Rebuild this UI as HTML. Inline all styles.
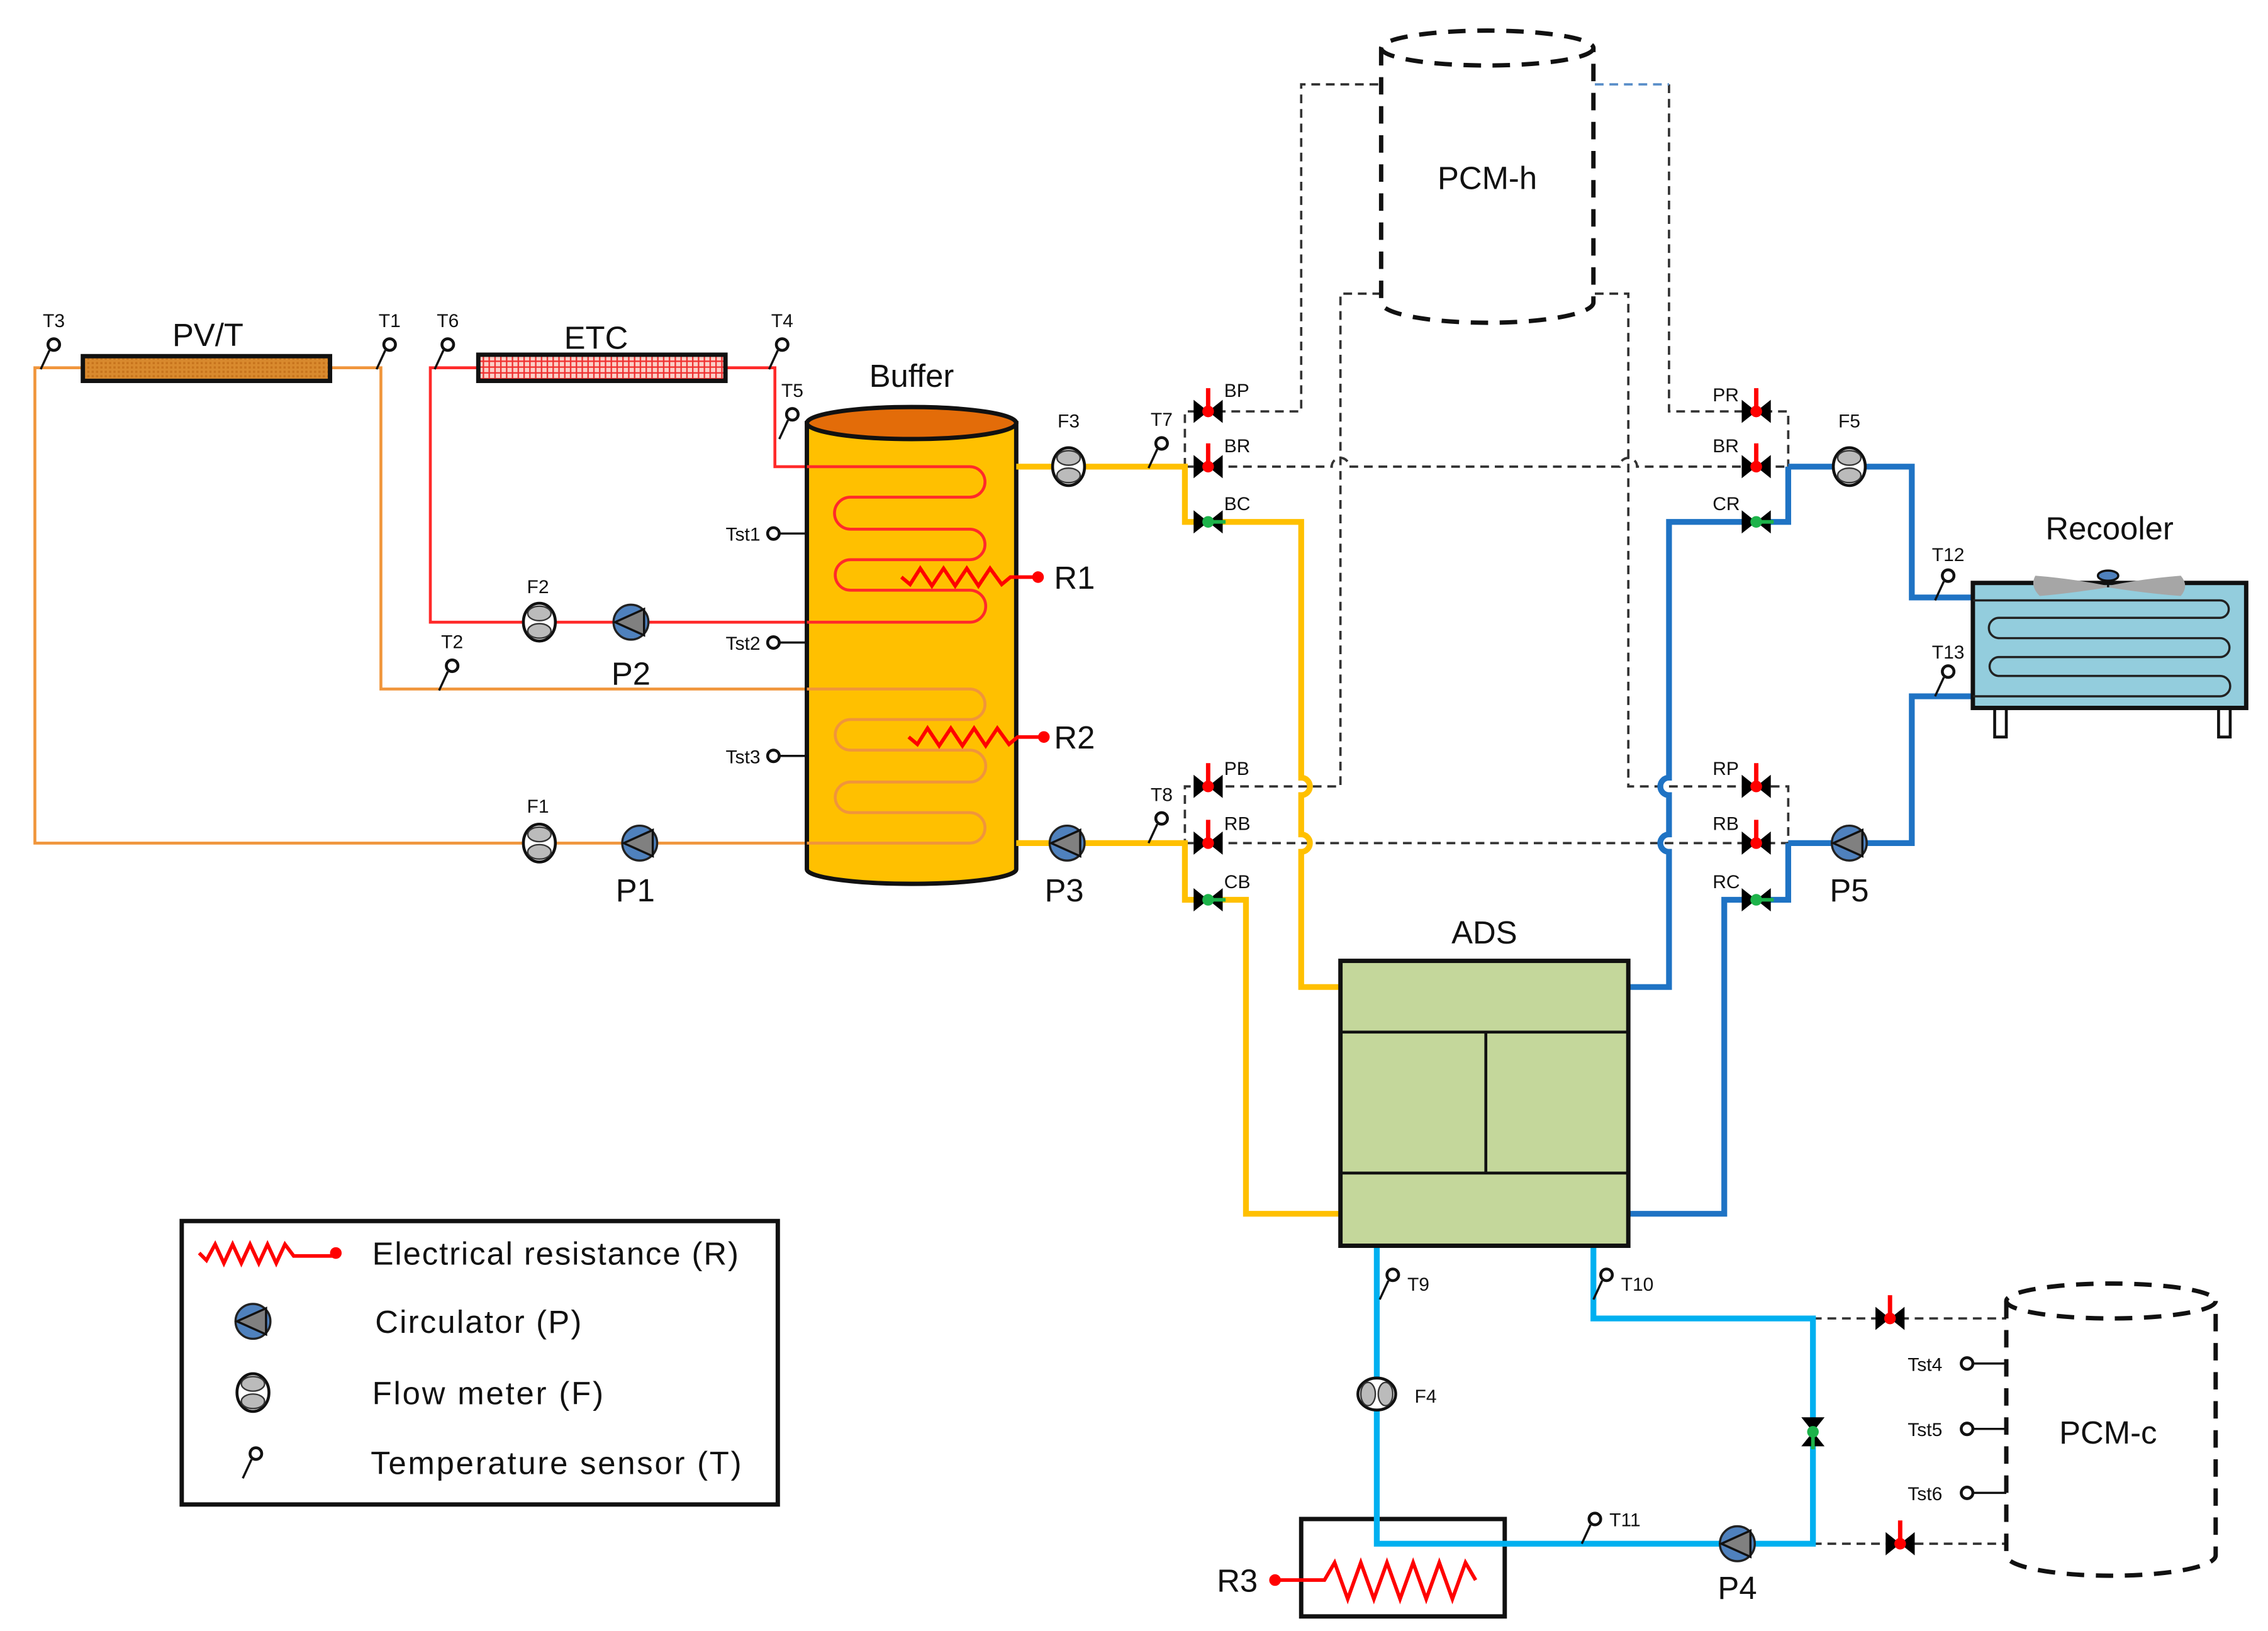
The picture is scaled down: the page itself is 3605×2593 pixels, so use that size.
<!DOCTYPE html>
<html><head><meta charset="utf-8">
<style>
html,body{margin:0;padding:0;background:#fff;}
svg{display:block;}
text{font-family:"Liberation Sans",sans-serif;fill:#111;}
.s{font-size:13px;}
.m{font-size:20px;}
.l{font-size:22px;}
</style></head>
<body>
<svg width="3605" height="2593" viewBox="0 0 1560 1122" xmlns="http://www.w3.org/2000/svg">
<defs>
<pattern id="hatch" width="3" height="3" patternUnits="userSpaceOnUse">
<rect width="3" height="3" fill="#d98a2e"/><rect width="1.5" height="1.5" fill="#c7741d"/>
</pattern>
<pattern id="grid" width="4" height="4" patternUnits="userSpaceOnUse">
<rect width="4" height="4" fill="#fbd0c8"/><path d="M0,0.5H4M0.5,0V4" stroke="#f03030" stroke-width="1"/>
</pattern>
<g id="pump"><circle r="12" fill="#4f81bd" stroke="#222" stroke-width="1.5"/><polygon points="-11,0 9,-9 9,9" fill="#808080" stroke="#111" stroke-width="1.5"/></g>
<g id="flow"><ellipse rx="11" ry="13" fill="#fff" stroke="#111" stroke-width="2"/><ellipse cy="-6" rx="8" ry="5" fill="#bbb" stroke="#333"/><ellipse cy="6" rx="8" ry="5" fill="#bbb" stroke="#333"/></g>
<g id="vb"><polygon points="-10,-8 0,0 -10,8" fill="#000"/><polygon points="10,-8 0,0 10,8" fill="#000"/></g>
<g id="vr"><use href="#vb"/><line x1="0" y1="-16" x2="0" y2="0" stroke="#f00" stroke-width="3"/><circle r="4" fill="#f00"/></g>
<g id="vg"><use href="#vb"/><line x1="0" y1="0" x2="12" y2="0" stroke="#1db34a" stroke-width="2.5"/><circle r="4" fill="#1db34a"/></g>
<g id="sen"><line x1="-3" y1="4" x2="-9" y2="17" stroke="#111" stroke-width="1.5"/><circle r="4" fill="#fff" stroke="#111" stroke-width="2"/></g>
</defs>

<!-- dashed PCM-h connections -->
<g fill="none" stroke="#333" stroke-width="1.6" stroke-dasharray="6,4">
<path d="M815,321 V283 H895 V58 H950"/>
<path d="M950,202 H922 V541 H815 V580"/>
<path d="M815,321 H916 A6,6 0 0 1 928,321 H1114 A6,6 0 0 1 1126,321 H1230"/>
<path d="M815,580 H1230"/>
<path d="M1148,58 V283 H1230 V321"/>
<path d="M1097,202 H1120 V541 H1230 V580"/>
<path d="M1247,907 H1380"/>
<path d="M1247,1062 H1380"/>
</g>
<path d="M1097,58 H1148" fill="none" stroke="#5b8fc9" stroke-width="1.6" stroke-dasharray="6,4"/>

<!-- PCM-h -->
<g fill="none" stroke="#111" stroke-width="3" stroke-dasharray="12,8">
<ellipse cx="1023" cy="33" rx="73" ry="12"/>
<path d="M950,33 V208 A73,14 0 0 0 1096,208 V33"/>
<ellipse cx="1452" cy="895" rx="72" ry="12"/>
<path d="M1380,895 V1070 A72,14 0 0 0 1524,1070 V895"/>
</g>
<text class="l" x="1023" y="130" text-anchor="middle">PCM-h</text>
<text class="l" x="1450" y="993" text-anchor="middle">PCM-c</text>

<!-- orange PV/T loop -->
<g fill="none" stroke="#f0953b" stroke-width="2">
<path d="M57,253 H24 V580 H555"/>
<path d="M227,253 H262 V474 H555"/>
</g>
<!-- red ETC loop -->
<g fill="none" stroke="#ff2a2a" stroke-width="2">
<path d="M329,253 H296 V428 H555"/>
<path d="M499,253 H533 V321 H555"/>
</g>

<!-- PV/T and ETC -->
<rect x="57" y="245" width="170" height="17" fill="url(#hatch)" stroke="#111" stroke-width="3"/>
<rect x="329" y="244" width="170" height="18" fill="url(#grid)" stroke="#111" stroke-width="3"/>
<text class="l" x="143" y="238" text-anchor="middle">PV/T</text>
<text class="l" x="410" y="240" text-anchor="middle">ETC</text>

<!-- Buffer -->
<path d="M555,291 V598 A72,10 0 0 0 699,598 V291 Z" fill="#ffc000" stroke="#111" stroke-width="3"/>
<ellipse cx="627" cy="291" rx="72" ry="11" fill="#e36c09" stroke="#111" stroke-width="3"/>
<text class="l" x="627" y="266" text-anchor="middle">Buffer</text>
<path d="M555,321 H667 A10.5,10.5 0 0 1 667,342 H585 A11,11 0 0 0 585,364 H667 A10.5,10.5 0 0 1 667,385 H585 A10.5,10.5 0 0 0 585,406 H667 A11,11 0 0 1 667,428 H555" fill="none" stroke="#ff2a2a" stroke-width="2"/>
<path d="M555,474 H667 A10.5,10.5 0 0 1 667,495 H585 A10.5,10.5 0 0 0 585,516 H667 A11,11 0 0 1 667,538 H585 A10.5,10.5 0 0 0 585,559 H667 A10.5,10.5 0 0 1 667,580 H555" fill="none" stroke="#f0953b" stroke-width="2"/>
<g fill="none" stroke="#f00" stroke-width="2.5">
<path d="M620,397 L626,402 L633,391 L641,403 L649,391 L657,403 L665,391 L673,403 L681,391 L689,402 L695,397 H714"/>
<path d="M625,507 L631,512 L638,501 L646,513 L654,501 L662,513 L670,501 L678,513 L686,501 L694,512 L700,507 H718"/>
</g>
<circle cx="714" cy="397" r="4" fill="#f00"/><circle cx="718" cy="507" r="4" fill="#f00"/>
<text class="l" x="725" y="405">R1</text><text class="l" x="725" y="515">R2</text>
<!-- Tst sensors -->
<g stroke="#111" stroke-width="1.5" fill="#fff">
<line x1="536" y1="367" x2="555" y2="367"/><circle cx="532" cy="367" r="4" stroke-width="2"/>
<line x1="536" y1="442" x2="555" y2="442"/><circle cx="532" cy="442" r="4" stroke-width="2"/>
<line x1="536" y1="520" x2="555" y2="520"/><circle cx="532" cy="520" r="4" stroke-width="2"/>
<line x1="1357" y1="938" x2="1380" y2="938"/><circle cx="1353" cy="938" r="4" stroke-width="2"/>
<line x1="1357" y1="983" x2="1380" y2="983"/><circle cx="1353" cy="983" r="4" stroke-width="2"/>
<line x1="1357" y1="1027" x2="1380" y2="1027"/><circle cx="1353" cy="1027" r="4" stroke-width="2"/>
</g>
<text class="s" x="523" y="372" text-anchor="end">Tst1</text>
<text class="s" x="523" y="447" text-anchor="end">Tst2</text>
<text class="s" x="523" y="525" text-anchor="end">Tst3</text>
<text class="s" x="1336" y="943" text-anchor="end">Tst4</text>
<text class="s" x="1336" y="988" text-anchor="end">Tst5</text>
<text class="s" x="1336" y="1032" text-anchor="end">Tst6</text>

<!-- yellow pipes -->
<g fill="none" stroke="#ffc000" stroke-width="4">
<path d="M699,321 H815 V359 H895 V535 A6,6 0 0 1 895,547 V574 A6,6 0 0 1 895,586 V679 H922"/>
<path d="M699,580 H815 V619 H857 V835 H922"/>
</g>
<!-- blue pipes -->
<g fill="none" stroke="#1f73c4" stroke-width="4">
<path d="M1230,321 H1315 V411 H1357"/>
<path d="M1230,321 V359 H1148 V535 A6,6 0 0 0 1148,547 V574 A6,6 0 0 0 1148,586 V679 H1120"/>
<path d="M1230,580 H1315 V479 H1357"/>
<path d="M1230,580 V619 H1186 V835 H1120"/>
</g>
<!-- light blue loop -->
<rect x="895" y="1045" width="140" height="67" fill="#fff" stroke="#111" stroke-width="3"/>
<path d="M947,857 V1062 H1247 V907 H1096 V857" fill="none" stroke="#00b0f0" stroke-width="4"/>
<path d="M879,1087 H911 L918,1075 L927,1100 L936,1075 L945,1100 L954,1075 L963,1100 L972,1075 L981,1100 L990,1075 L999,1100 L1008,1075 L1015,1087" fill="none" stroke="#f00" stroke-width="2.5"/>
<circle cx="877" cy="1087" r="4" fill="#f00"/>
<text class="l" x="837" y="1095">R3</text>

<!-- ADS -->
<rect x="922" y="661" width="198" height="196" fill="#c4d79b" stroke="#111" stroke-width="3"/>
<path d="M922,710 H1120 M922,807 H1120 M1022,710 V807" stroke="#111" stroke-width="2"/>
<text class="l" x="1021" y="649" text-anchor="middle">ADS</text>

<!-- Recooler -->
<rect x="1372" y="487" width="8" height="20" fill="#fff" stroke="#111" stroke-width="2"/>
<rect x="1526" y="487" width="8" height="20" fill="#fff" stroke="#111" stroke-width="2"/>
<rect x="1357" y="401" width="188" height="86" fill="#93cddd" stroke="#111" stroke-width="3"/>
<path d="M1357,413 H1527 A6,6 0 0 1 1527,425 H1375 A7,7 0 0 0 1375,439 H1527 A6.5,6.5 0 0 1 1527,452 H1375 A6.5,6.5 0 0 0 1375,465 H1527 A7,7 0 0 1 1527,479 H1357" fill="none" stroke="#222" stroke-width="1.5"/>
<path d="M1400,396 Q1425,398 1450,403 Q1475,398 1500,396 Q1506,403 1500,410 Q1475,408 1450,404 Q1425,408 1403,410 Q1396,403 1400,396 Z" fill="#a6a6a6"/>
<line x1="1450" y1="397" x2="1450" y2="404" stroke="#111" stroke-width="1.5"/>
<ellipse cx="1450" cy="396" rx="7" ry="3.5" fill="#4f81bd" stroke="#111" stroke-width="1.5"/>
<text class="l" x="1451" y="371" text-anchor="middle">Recooler</text>

<!-- pumps & flow meters -->
<use href="#flow" x="371" y="580"/><use href="#pump" x="440" y="580"/>
<use href="#flow" x="371" y="428"/><use href="#pump" x="434" y="428"/>
<use href="#flow" x="735" y="321"/><use href="#pump" x="734" y="580"/>
<use href="#flow" x="1272" y="321"/><use href="#pump" x="1272" y="580"/>
<use href="#pump" x="1195" y="1062"/>
<g transform="translate(947,959) rotate(90)"><use href="#flow"/></g>
<text class="s" x="370" y="559" text-anchor="middle">F1</text>
<text class="l" x="437" y="620" text-anchor="middle">P1</text>
<text class="s" x="370" y="408" text-anchor="middle">F2</text>
<text class="l" x="434" y="471" text-anchor="middle">P2</text>
<text class="s" x="735" y="294" text-anchor="middle">F3</text>
<text class="l" x="732" y="620" text-anchor="middle">P3</text>
<text class="s" x="1272" y="294" text-anchor="middle">F5</text>
<text class="l" x="1272" y="620" text-anchor="middle">P5</text>
<text class="s" x="973" y="965">F4</text>
<text class="l" x="1195" y="1100" text-anchor="middle">P4</text>

<!-- valves -->
<use href="#vr" x="831" y="283"/><use href="#vr" x="831" y="321"/><use href="#vg" x="831" y="359"/>
<use href="#vr" x="831" y="541"/><use href="#vr" x="831" y="580"/><use href="#vg" x="831" y="619"/>
<use href="#vr" x="1208" y="283"/><use href="#vr" x="1208" y="321"/><use href="#vg" x="1208" y="359"/>
<use href="#vr" x="1208" y="541"/><use href="#vr" x="1208" y="580"/><use href="#vg" x="1208" y="619"/>
<use href="#vr" x="1300" y="907"/><use href="#vr" x="1307" y="1062"/>
<g transform="translate(1247,985) rotate(90)"><use href="#vg"/></g>
<g class="s">
<text x="842" y="273">BP</text><text x="842" y="311">BR</text><text x="842" y="351">BC</text>
<text x="842" y="533">PB</text><text x="842" y="571">RB</text><text x="842" y="611">CB</text>
<text x="1178" y="276">PR</text><text x="1178" y="311">BR</text><text x="1178" y="351">CR</text>
<text x="1178" y="533">RP</text><text x="1178" y="571">RB</text><text x="1178" y="611">RC</text>
</g>

<!-- temperature sensors -->
<use href="#sen" x="37" y="237"/><use href="#sen" x="268" y="237"/>
<use href="#sen" x="308" y="237"/><use href="#sen" x="538" y="237"/>
<use href="#sen" x="545" y="285"/><use href="#sen" x="311" y="458"/>
<use href="#sen" x="799" y="305"/><use href="#sen" x="799" y="563"/>
<use href="#sen" x="1340" y="396"/><use href="#sen" x="1340" y="462"/>
<use href="#sen" x="958" y="877"/><use href="#sen" x="1105" y="877"/>
<use href="#sen" x="1097" y="1045"/>
<g class="s" text-anchor="middle">
<text x="37" y="225">T3</text><text x="268" y="225">T1</text>
<text x="308" y="225">T6</text><text x="538" y="225">T4</text>
<text x="545" y="273">T5</text><text x="311" y="446">T2</text>
<text x="799" y="293">T7</text><text x="799" y="551">T8</text>
<text x="1340" y="386">T12</text><text x="1340" y="453">T13</text>
</g>
<g class="s">
<text x="968" y="888">T9</text><text x="1115" y="888">T10</text><text x="1107" y="1050">T11</text>
</g>

<!-- legend -->
<rect x="125" y="840" width="410" height="195" fill="#fff" stroke="#111" stroke-width="3"/>
<path d="M137,862 L142,867 L148,856 L154,869 L160,856 L166,869 L172,856 L178,869 L184,856 L190,869 L196,856 L202,864 H231" fill="none" stroke="#f00" stroke-width="2.5"/>
<circle cx="231" cy="862" r="4" fill="#f00"/>
<use href="#pump" x="174" y="909"/>
<use href="#flow" x="174" y="958"/>
<use href="#sen" x="176" y="1000"/>
<text class="l" x="256" y="870" textLength="252">Electrical resistance (R)</text>
<text class="l" x="258" y="917" textLength="142">Circulator (P)</text>
<text class="l" x="256" y="966" textLength="159">Flow meter (F)</text>
<text class="l" x="255" y="1014" textLength="255">Temperature sensor (T)</text>
</svg>
</body></html>
